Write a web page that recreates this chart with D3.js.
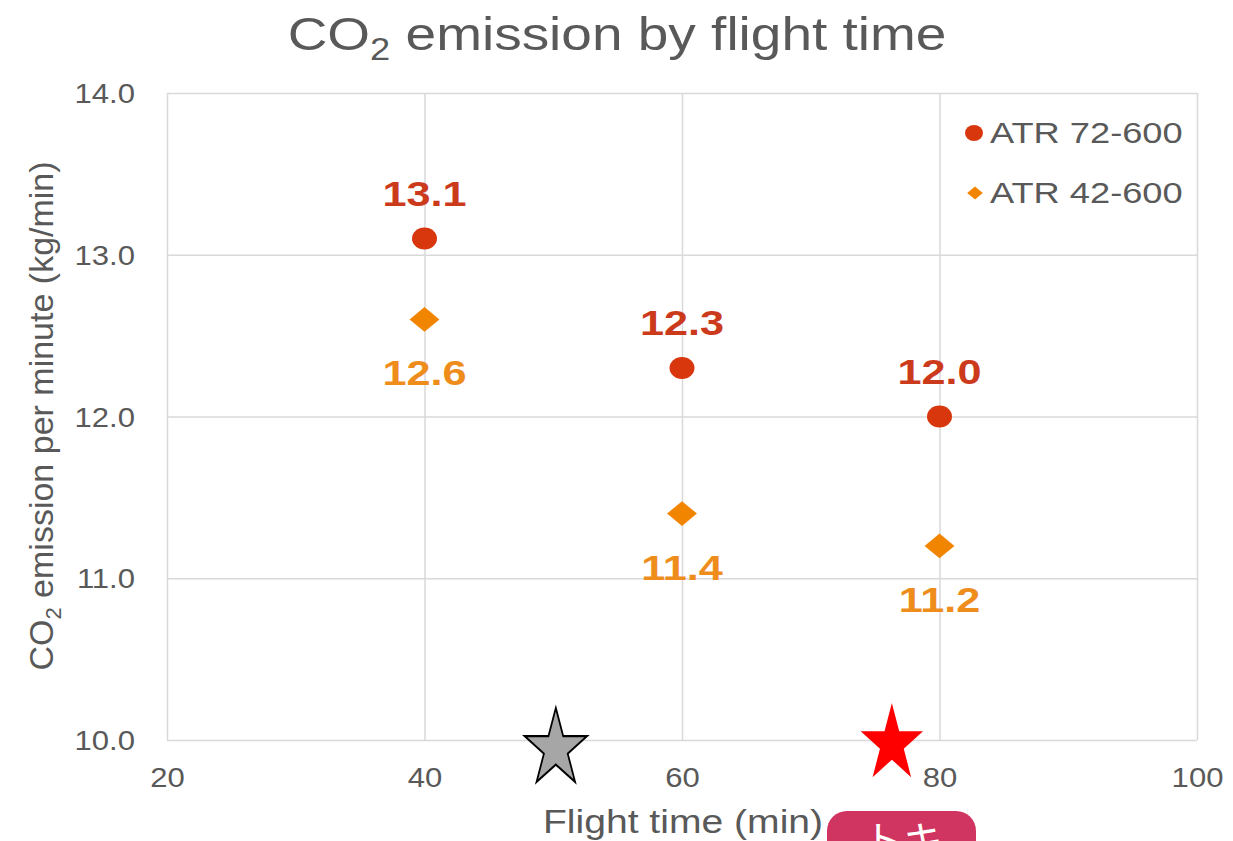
<!DOCTYPE html>
<html>
<head>
<meta charset="utf-8">
<script src="https://cdn.jsdelivr.net/npm/d3@7/dist/d3.min.js"></script>
<style>
  html, body { margin: 0; padding: 0; background: #fff; }
  svg { display: block; font-family: "Liberation Sans", Arial, sans-serif; }
</style>
</head>
<body>
<svg id="chart" width="1233" height="841"></svg>
<script>
// Flight time categories (min) and CO2 emission per minute (kg/min)
const flightTimes = [40, 60, 80];
const atr72 = [13.1, 12.3, 12.0];
const atr42 = [12.6, 11.4, 11.2];
const seriesNames = ["ATR 72-600", "ATR 42-600"];
const xTicks = [20, 40, 60, 80, 100];
const yTicks = [10, 11, 12, 13, 14];
// Star markers placed on the time axis
const starTimes = [50.2, 76.3];
const starLevels = [9.97, 10.0];
const buttonLabel = "トキ";

const svg = d3.select("#chart");
const W = 1233, H = 841;
const m = { left: 167, right: 36, top: 93, bottom: 101 };
const SX = 1.15; // horizontal text stretch

const x = d3.scaleLinear().domain([20, 100]).range([m.left, W - m.right]);
const y = d3.scaleLinear().domain([10, 14]).range([H - m.bottom, m.top]);

const GRID = "#d9d9d9", TXT = "#595959";

// helper: stretched text at a point
function stext(g, px, py, str, opts) {
  const t = g.append("g").attr("transform", `translate(${px},${py})`)
    .append("text")
    .attr("transform", `scale(${opts.sx || SX},1)`)
    .attr("text-anchor", opts.anchor || "middle")
    .attr("font-size", opts.size)
    .attr("font-weight", opts.weight || "normal")
    .attr("fill", opts.fill || TXT);
  return t.text(str);
}

// gridlines
svg.append("g")
  .attr("transform", `translate(0,${y(10)})`)
  .call(d3.axisBottom(x).tickValues(xTicks).tickSize(-(y(10) - y(14))).tickFormat(""))
  .call(g => g.select(".domain").remove())
  .call(g => g.selectAll("line").attr("stroke", GRID).attr("stroke-width", 1.5));
svg.append("g")
  .attr("transform", `translate(${x(20)},0)`)
  .call(d3.axisLeft(y).tickValues(yTicks).tickSize(-(x(100) - x(20))).tickFormat(""))
  .call(g => g.select(".domain").remove())
  .call(g => g.selectAll("line").attr("stroke", GRID).attr("stroke-width", 1.5));

// y tick labels
const yAx = svg.append("g")
  .attr("transform", `translate(${x(20)},0)`)
  .call(d3.axisLeft(y).tickValues(yTicks).tickSize(0).tickPadding(32).tickFormat(d3.format(".1f")));
yAx.select(".domain").remove();
yAx.selectAll("text")
  .attr("font-size", 27).attr("fill", TXT).attr("font-family", "Liberation Sans, Arial, sans-serif")
  .attr("dy", "0.36em")
  .each(function () {
    const t = d3.select(this);
    const xx = +t.attr("x");
    t.attr("x", xx / SX).attr("transform", `scale(${SX},1)`);
  });

// x tick labels
const xAx = svg.append("g")
  .attr("transform", `translate(0,${y(10)})`)
  .call(d3.axisBottom(x).tickValues(xTicks).tickSize(0).tickPadding(38).tickFormat(d3.format("d")));
xAx.select(".domain").remove();
xAx.selectAll("text")
  .attr("font-size", 27).attr("fill", TXT).attr("font-family", "Liberation Sans, Arial, sans-serif")
  .attr("dy", "0.35em")
  .attr("transform", `scale(${SX},1)`);

// title
const title = stext(svg, 617, 50, "", { size: 47, sx: 1.17 });
title.append("tspan").text("CO");
title.append("tspan").attr("font-size", 31).attr("dy", 10).text("2");
title.append("tspan").attr("dy", -10).text(" emission by flight time");

// x axis title
stext(svg, 683, 833, "Flight time (min)", { size: 34 });

// y axis title (rotated)
const yt = svg.append("g").attr("transform", `translate(53,416) rotate(-90)`)
  .append("text").attr("text-anchor", "middle").attr("font-size", 34).attr("fill", TXT);
yt.append("tspan").text("CO");
yt.append("tspan").attr("font-size", 22).attr("dy", 8).text("2");
yt.append("tspan").attr("dy", -8).text(" emission per minute (kg/min)");

// series
const RED = "#d8360d", ORANGE = "#f28500";
const RED_LBL = "#cc3a1c", OR_LBL = "#ee8d1c";

const pts72 = flightTimes.map((t, i) => ({ t, v: atr72[i] }));
const pts42 = flightTimes.map((t, i) => ({ t, v: atr42[i] }));

const diamond = d3.symbol(d3.symbolDiamond2).size(431);
svg.append("g").selectAll("path").data(pts42).join("path")
  .attr("d", diamond)
  .attr("transform", d => `translate(${x(d.t)},${y(d.v)}) scale(1.15,0.95)`)
  .attr("fill", ORANGE);
svg.append("g").selectAll("ellipse").data(pts72).join("ellipse")
  .attr("cx", d => x(d.t)).attr("cy", d => y(d.v)).attr("rx", 12.5).attr("ry", 11)
  .attr("fill", RED);

// value labels
pts72.forEach(d => stext(svg, x(d.t), y(d.v) - 33, d.v.toFixed(1), { size: 36, weight: "bold", fill: RED_LBL, sx: 1.2 }));
pts42.forEach(d => stext(svg, x(d.t), y(d.v) + 66, d.v.toFixed(1), { size: 36, weight: "bold", fill: OR_LBL, sx: 1.2 }));

// legend
const lg = svg.append("g");
lg.append("ellipse").attr("cx", 974).attr("cy", 133).attr("rx", 9).attr("ry", 8).attr("fill", RED);
lg.append("path").attr("d", diamond)
  .attr("transform", "translate(975,193) scale(0.6,0.5)").attr("fill", ORANGE);
stext(lg, 990, 143, seriesNames[0], { size: 29, anchor: "start", sx: 1.25 });
stext(lg, 990, 203, seriesNames[1], { size: 29, anchor: "start", sx: 1.25 });

// stars on the time axis
const starFill = ["#a6a6a6", "#ff0000"];
const starStroke = ["#000", "none"];
svg.append("g").selectAll("path").data(starTimes).join("path")
  .attr("d", d3.symbol(d3.symbolStar, 1).size(1))
  .attr("transform", (d, i) => {
    // unit-area star; outer radius ~0.945 units
    const R = 41 / 0.945;
    return `translate(${x(d)},${y(starLevels[i]) + 4}) scale(${R * 0.8},${R})`;
  })
  .attr("fill", (d, i) => starFill[i])
  .attr("stroke", (d, i) => starStroke[i])
  .attr("stroke-width", 0.05);

// button
const btn = svg.append("g");
btn.append("rect").attr("x", 827).attr("y", 811).attr("width", 149).attr("height", 60)
  .attr("rx", 20).attr("fill", "#d03460");
btn.append("text").attr("x", 903).attr("y", 855).attr("text-anchor", "middle")
  .attr("font-size", 40).attr("fill", "#fff")
  .attr("font-family", "Noto Sans CJK JP, sans-serif").text(buttonLabel);
</script>
</body>
</html>
